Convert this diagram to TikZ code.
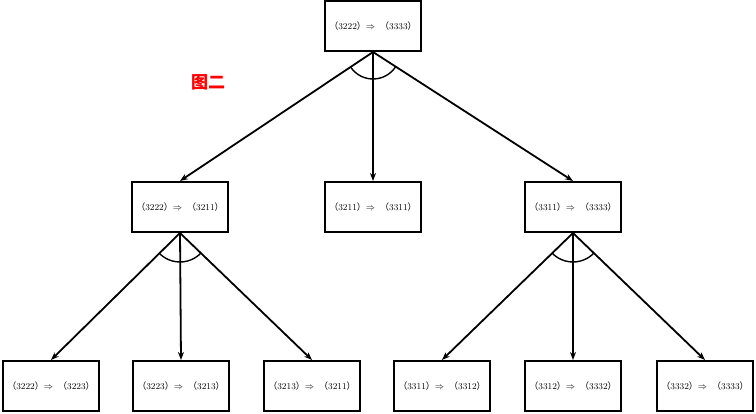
\documentclass[tikz,border=0pt]{standalone}
\usepackage{fontspec}
\usepackage{amssymb}
\usepackage{amsmath}
\newfontfamily\cjk{Noto Sans CJK SC}
\usetikzlibrary{arrows.meta}

% one rule label: (a) => (b)
\newcommand{\rulelbl}[2]{{\cjk （}#1{\cjk ）}$\Rightarrow$\hspace{5pt}{\cjk （}#2{\cjk ）}}

\begin{document}
\begin{tikzpicture}[x=1pt,y=-1pt,
  rulebox/.style={draw, line width=2pt, minimum width=96pt, minimum height=50pt,
    inner sep=0pt, font=\fontsize{9}{10}\selectfont},
  link/.style={line width=1.8pt, -{Stealth[length=8pt,width=6pt]}},
  andarc/.style={line width=1.4pt}]
\useasboundingbox (0,0) rectangle (756,414);

\node[rulebox] (top) at (373,26) {\rulelbl{3222}{3333}};

\node[rulebox] (m1) at (180,207) {\rulelbl{3222}{3211}};
\node[rulebox] (m2) at (373,207) {\rulelbl{3211}{3311}};
\node[rulebox] (m3) at (573,207) {\rulelbl{3311}{3333}};

\node[rulebox] (b1) at (51,386) {\rulelbl{3222}{3223}};
\node[rulebox] (b2) at (181,386) {\rulelbl{3223}{3213}};
\node[rulebox] (b3) at (312,386) {\rulelbl{3213}{3211}};
\node[rulebox] (b4) at (442,386) {\rulelbl{3311}{3312}};
\node[rulebox] (b5) at (573,386) {\rulelbl{3312}{3332}};
\node[rulebox] (b6) at (705,386) {\rulelbl{3332}{3333}};

\node[text=red, font=\cjk\bfseries\fontsize{17}{17}\selectfont] (title) at (208,82) {图二};

\path[draw,link] (top.south) -- (m1.north);
\path[draw,link] (top.south) -- (m2.north);
\path[draw,link] (top.south) -- (m3.north);

\path[draw,link] (m1.south) -- (b1.north);
\path[draw,link] (m1.south) -- (b2.north);
\path[draw,link] (m1.south) -- (b3.north);

\path[draw,link] (m3.south) -- (b4.north);
\path[draw,link] (m3.south) -- (b5.north);
\path[draw,link] (m3.south) -- (b6.north);

% and-arcs under the parents
\draw[andarc] (top.south) ++(146.2:27) arc[start angle=146.2, end angle=32.8, radius=27];
\draw[andarc] (m1.south) ++(135.5:29) arc[start angle=135.5, end angle=43.9, radius=29];
\draw[andarc] (m3.south) ++(135.5:29) arc[start angle=135.5, end angle=43.9, radius=29];
\end{tikzpicture}
\end{document}
